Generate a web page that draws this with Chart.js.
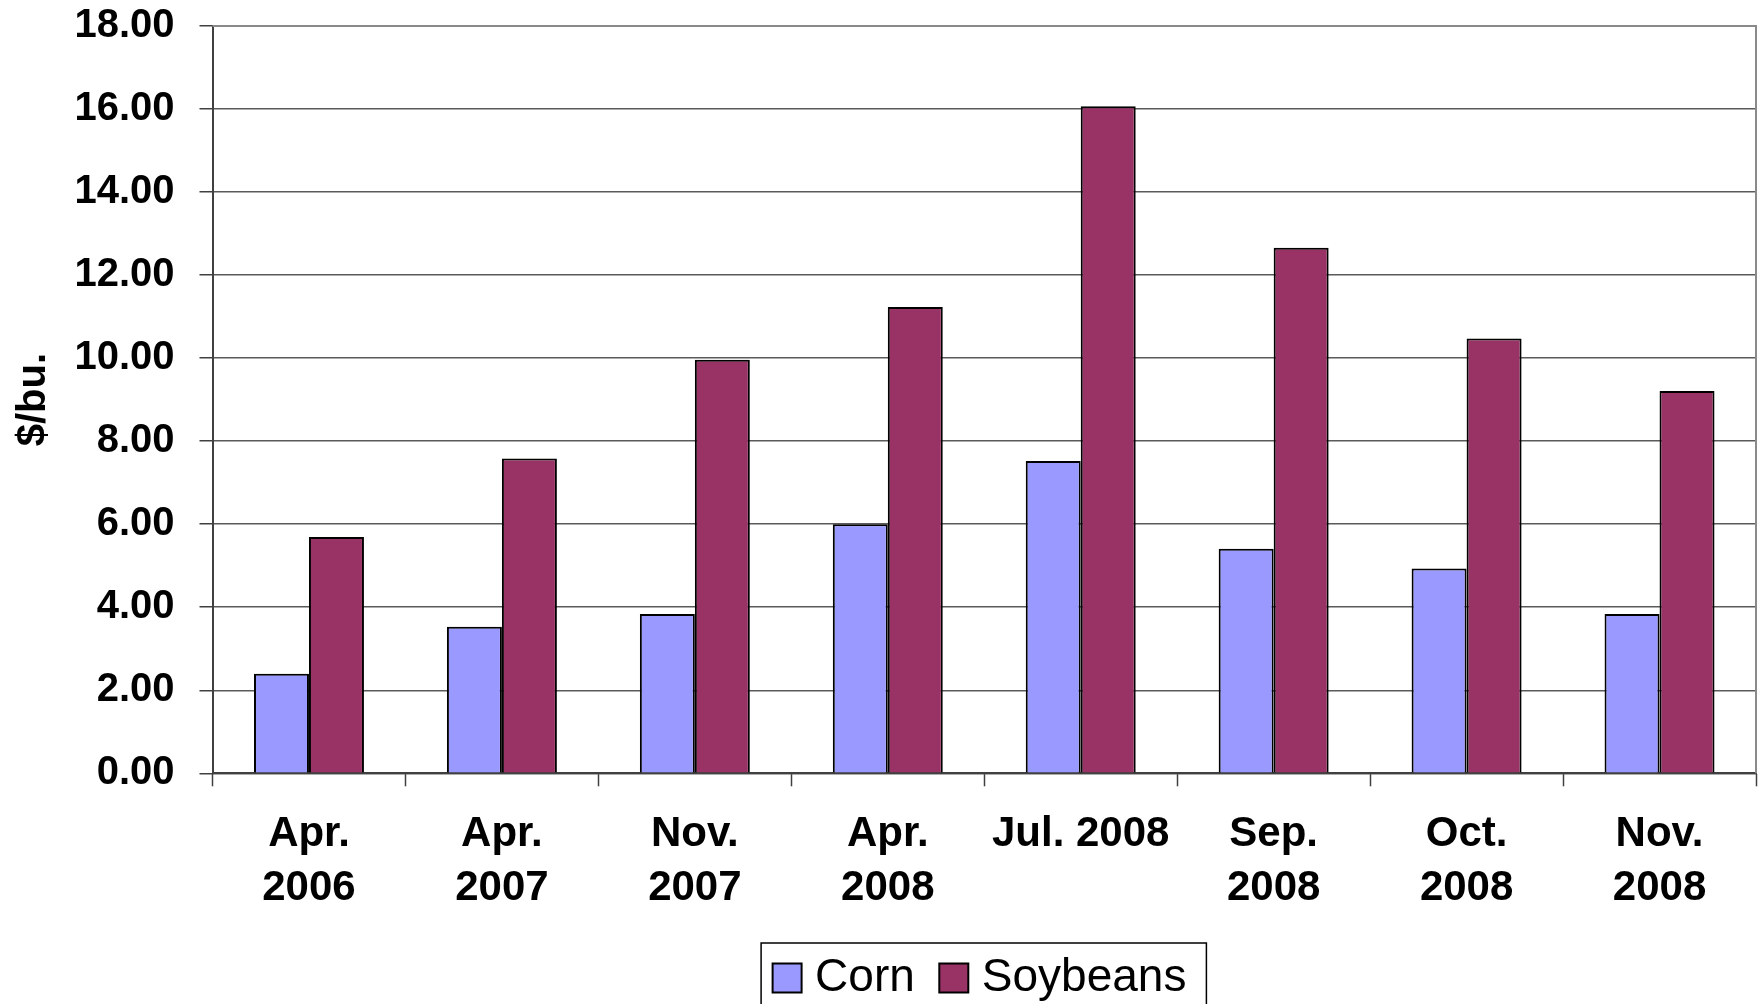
<!DOCTYPE html>
<html>
<head>
<meta charset="utf-8">
<script src="https://cdn.jsdelivr.net/npm/chart.js@4/dist/chart.umd.min.js"></script>
<style>
  html, body { margin: 0; padding: 0; background: #fff; }
  #wrap { width: 1763px; height: 1004px; position: relative; }
</style>
</head>
<body>
<div id="wrap"><canvas id="chart"></canvas></div>
<script>
const months = [
  ['Apr.', '2006'], ['Apr.', '2007'], ['Nov.', '2007'], ['Apr.', '2008'],
  'Jul. 2008', ['Sep.', '2008'], ['Oct.', '2008'], ['Nov.', '2008'],
];
const corn = [2.40, 3.53, 3.84, 6.00, 7.52, 5.41, 4.93, 3.84];
const soybeans = [5.69, 7.58, 9.96, 11.23, 16.07, 12.66, 10.47, 9.21];
const yTicks = [0, 2, 4, 6, 8, 10, 12, 14, 16, 18];

const colors = {
  corn: '#9999FF',
  soy: '#993366',
  edge: '#000000',
  grid: '#5a5a5a',
  axis: '#404040',
  frame: '#8a8a8a',
};
const font = 'Liberation Sans, Arial, sans-serif';

// plot-area frame (top/right) and the box round the legend
const frames = {
  id: 'frames',
  beforeDatasetsDraw(chart) {
    const { ctx, chartArea: a } = chart;
    ctx.save();
    ctx.strokeStyle = colors.frame;
    ctx.lineWidth = 2;
    ctx.beginPath();
    ctx.moveTo(a.left, a.top);
    ctx.lineTo(a.right, a.top);
    ctx.lineTo(a.right, a.bottom);
    ctx.stroke();
    ctx.restore();
  },
  afterDraw(chart) {
    const boxes = chart.legend && chart.legend.legendHitBoxes;
    if (!boxes || !boxes.length) return;
    const first = boxes[0], last = boxes[boxes.length - 1];
    const cy = first.top + first.height / 2;
    const { ctx } = chart;
    ctx.save();
    ctx.strokeStyle = '#000';
    ctx.lineWidth = 1.5;
    ctx.strokeRect(first.left - 21, cy - 35, last.left + last.width + 20 - (first.left - 21), 70);
    ctx.restore();
  },
};

new Chart(document.getElementById('chart'), {
  type: 'bar',
  data: {
    labels: months,
    datasets: [
      {
        label: 'Corn',
        data: corn,
        backgroundColor: colors.corn,
        borderColor: colors.edge,
        borderWidth: 2,
        categoryPercentage: 0.57,
        barPercentage: 1,
      },
      {
        label: 'Soybeans',
        data: soybeans,
        backgroundColor: colors.soy,
        borderColor: colors.edge,
        borderWidth: 2,
        categoryPercentage: 0.57,
        barPercentage: 1,
      },
    ],
  },
  options: {
    responsive: true,
    maintainAspectRatio: false,
    animation: false,
    layout: { padding: { top: 0, right: 7, left: 0, bottom: -7 } },
    plugins: {
      tooltip: { enabled: false },
      legend: {
        position: 'bottom',
        fullSize: false,
        labels: {
          color: '#000',
          font: { family: font, size: 46 },
          usePointStyle: true,
          pointStyle: 'rect',
          boxWidth: 10,
          boxHeight: 29,
          padding: 34,
        },
      },
    },
    scales: {
      x: {
        afterFit: s => { s.height = 147.7; },
        grid: {
          offset: true,
          drawOnChartArea: false,
          drawTicks: true,
          tickLength: 13,
          tickColor: colors.axis,
          tickWidth: 1.5,
        },
        border: { color: colors.axis, width: 2 },
        ticks: {
          color: '#000',
          padding: 21,
          maxRotation: 0,
          autoSkip: false,
          font: { family: font, size: 42, weight: 'bold', lineHeight: 1.28 },
        },
      },
      y: {
        min: 0,
        max: 18,
        afterFit: s => {
          s.width = 212.5;
          s.paddingTop = 26;
          s.paddingBottom = 0;
        },
        afterBuildTicks: s => { s.ticks = yTicks.map(v => ({ value: v })); },
        grid: {
          color: colors.grid,
          lineWidth: 1.5,
          tickLength: 13,
          tickColor: colors.axis,
        },
        border: { color: colors.axis, width: 2 },
        ticks: {
          color: '#000',
          padding: 25,
          font: { family: font, size: 40, weight: 'bold' },
          callback: v => Number(v).toFixed(2),
        },
        title: {
          display: true,
          text: '$/bu.',
          color: '#000',
          padding: { top: 10, bottom: 0 },
          font: { family: font, size: 40, weight: 'bold' },
        },
      },
    },
  },
  plugins: [frames],
});
</script>
</body>
</html>
